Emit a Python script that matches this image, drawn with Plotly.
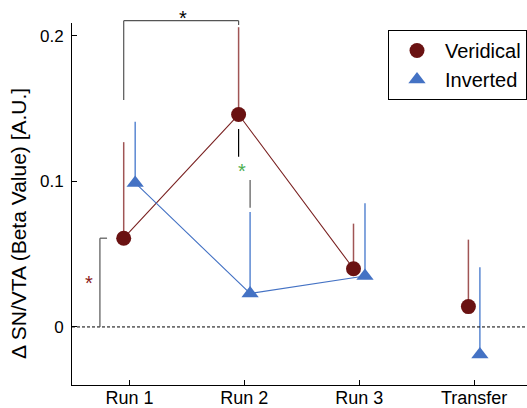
import plotly.graph_objects as go

categories = ["Run 1", "Run 2", "Run 3", "Transfer"]
veridical = [0.061, 0.146, 0.040, 0.014]
veridical_err = [0.066, 0.060, 0.031, 0.046]
inverted = [0.099, 0.023, 0.035, -0.019]
inverted_err = [0.042, 0.056, 0.050, 0.060]
y_ticks = [0, 0.1, 0.2]
y_tick_labels = ["0", "0.1", "0.2"]

XR = [0.5, 4.46]
YR = [-0.0399, 0.2089]
OFF = 0.05

RED = "#6a1212"
RED_ERR = "#a05555"
RED_LINE = "#7a2222"
BLUE = "#4472c4"
BLUE_ERR = "#5b88d2"
GRAY = "#555555"
FONT = "Liberation Sans, Arial, sans-serif"

W, H = 527, 408
ML, MR, MT, MB = 72, 0, 23, 23

xs = [i + 1 for i in range(len(categories))]
xv = [x - OFF for x in xs]
xi = [x + OFF for x in xs]


def px(x):
    return (x - XR[0]) / (XR[1] - XR[0])


def py(y):
    return (y - YR[0]) / (YR[1] - YR[0])


fig = go.Figure()

fig.add_trace(go.Scatter(
    x=xv[:3], y=veridical[:3], mode="lines+markers",
    line=dict(color=RED_LINE, width=1.1),
    marker=dict(symbol="circle", size=15, color=RED),
    error_y=dict(type="data", symmetric=False, array=veridical_err[:3],
                 arrayminus=[0] * 3, width=0, color=RED_ERR, thickness=1.5),
    showlegend=False))
fig.add_trace(go.Scatter(
    x=xv[3:], y=veridical[3:], mode="markers",
    marker=dict(symbol="circle", size=15, color=RED),
    error_y=dict(type="data", symmetric=False, array=veridical_err[3:],
                 arrayminus=[0], width=0, color=RED_ERR, thickness=1.5),
    showlegend=False))
fig.add_trace(go.Scatter(
    x=xi[:3], y=inverted[:3], mode="lines+markers",
    line=dict(color=BLUE, width=1.1),
    marker=dict(symbol="triangle-up", size=15, color=BLUE),
    error_y=dict(type="data", symmetric=False, array=inverted_err[:3],
                 arrayminus=[0] * 3, width=0, color=BLUE_ERR, thickness=1.5),
    showlegend=False))
fig.add_trace(go.Scatter(
    x=xi[3:], y=inverted[3:], mode="markers",
    marker=dict(symbol="triangle-up", size=15, color=BLUE),
    error_y=dict(type="data", symmetric=False, array=inverted_err[3:],
                 arrayminus=[0], width=0, color=BLUE_ERR, thickness=1.5),
    showlegend=False))

fig.add_trace(go.Scatter(x=[None], y=[None], mode="markers", name="Veridical",
                         marker=dict(symbol="circle", size=15, color=RED)))
fig.add_trace(go.Scatter(x=[None], y=[None], mode="markers", name="Inverted",
                         marker=dict(symbol="triangle-up", size=15, color=BLUE)))

shapes = []


def seg(x0, y0, x1, y1, color=GRAY, width=1.2, dash=None):
    d = dict(type="line", xref="paper", yref="paper",
             x0=px(x0), y0=py(y0), x1=px(x1), y1=py(y1),
             line=dict(color=color, width=width))
    if dash:
        d["line"]["dash"] = dash
    shapes.append(d)


seg(XR[0], 0, XR[1], 0, color="black", width=1, dash="3px,2px")

top = 0.2105
seg(xv[0], 0.156, xv[0], top)
seg(xv[0], top, xv[1], top)
seg(xv[1], top, xv[1], 0.2075)

seg(0.743, 0, 0.743, veridical[0])
seg(0.743, veridical[0], 0.805, veridical[0])

seg(xv[1], 0.136, xv[1], 0.117, color="black")
seg(xi[1], 0.101, xi[1], 0.082, color=GRAY)

fig.update_layout(shapes=shapes)

fig.add_annotation(x=px((xv[0] + xv[1]) / 2) - 0.01, y=py(0.2105), xref="paper", yref="paper",
                   text="*", showarrow=False, yanchor="bottom",
                   font=dict(size=20, color="black", family=FONT), yshift=-10)
fig.add_annotation(x=px(0.6), y=py(0.033), xref="paper", yref="paper",
                   text="*", showarrow=False, yanchor="middle",
                   font=dict(size=20, color="#8b1a1a", family=FONT), yshift=-4)
fig.add_annotation(x=px(1.978), y=py(0.109), xref="paper", yref="paper",
                   text="*", showarrow=False, yanchor="middle",
                   font=dict(size=20, color="#4caf50", family=FONT), yshift=-3)

plot_h = H - MT - MB
plot_w = W - ML - MR
fig.add_annotation(x=(19 - ML) / plot_w, y=(H - MB - 212) / plot_h,
                   xref="paper", yref="paper", text="Δ SN/VTA (Beta Value) [A.U.]",
                   textangle=-90, showarrow=False, xanchor="center", yanchor="middle",
                   yshift=-12,
                   font=dict(size=21, color="black", family=FONT))

fig.update_xaxes(range=XR, tickvals=xs, ticktext=categories, ticks="inside",
                 ticklen=5, tickcolor="black", showline=True, linecolor="black",
                 linewidth=1, showgrid=False, zeroline=False, ticklabelstandoff=-4,
                 tickfont=dict(size=18, color="black"))
fig.update_yaxes(range=YR, tickvals=y_ticks, ticktext=y_tick_labels, ticks="inside",
                 ticklen=5, tickcolor="black", showline=True, linecolor="black",
                 linewidth=1, showgrid=False, zeroline=False, ticklabelstandoff=4,
                 tickfont=dict(size=17, color="black"))

fig.update_layout(
    width=W, height=H,
    margin=dict(l=ML, r=MR, t=MT, b=MB, autoexpand=False),
    plot_bgcolor="white", paper_bgcolor="white",
    font=dict(family=FONT, color="black"),
    legend=dict(x=(388 - ML) / plot_w, y=(H - MB - 30) / plot_h,
                xanchor="left", yanchor="top",
                bordercolor="black", borderwidth=1, bgcolor="white",
                font=dict(size=20), itemwidth=46, tracegroupgap=0),
)

fig.write_html("out.html", config={"displayModeBar": False},
               post_script="document.body.style.margin='0';document.body.style.overflow='hidden';")
